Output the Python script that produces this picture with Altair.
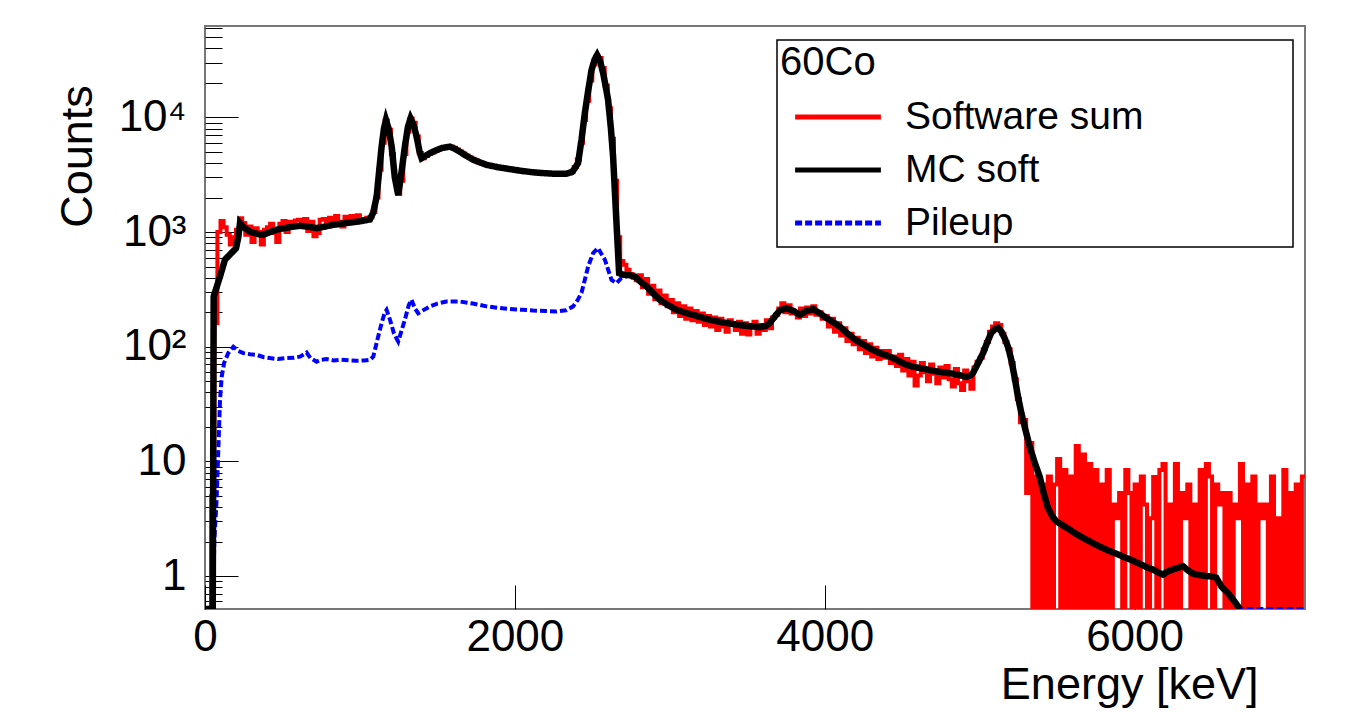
import altair as alt
import pandas as pd

# ---------------- data ----------------
BIN_KEV = 20  # width of the "Software sum" histogram bins, keV

# Software sum: one value per 20 keV bin, 0 .. 7100 keV
software_sum_counts = [
    0, 0, 5, 160, 1000, 1250, 1100, 950, 780, 900,
    1050, 1320, 1200, 950, 1120, 820, 1080, 1000, 780, 1050,
    1100, 1180, 980, 820, 1180, 1250, 1000, 1230, 1120, 1260,
    1280, 1150, 1300, 1020, 1230, 920, 980, 1280, 1300, 1120,
    1330, 1180, 1380, 1230, 1120, 1360, 1250, 1380, 1260, 1400,
    1260, 1300, 1330, 1350, 1500, 2000, 3500, 6000, 9400, 7800,
    4800, 3000, 2150, 2800, 4800, 7500, 9800, 9000, 6800, 4900,
    4400, 4600, 4800, 4950, 5100, 5250, 5400, 5500, 5550, 5560,
    5450, 5250, 5050, 4850, 4650, 4500, 4350, 4200, 4050, 3950,
    3880, 3820, 3760, 3720, 3680, 3640, 3600, 3580, 3560, 3540,
    3500, 3470, 3440, 3400, 3380, 3350, 3320, 3300, 3280, 3270,
    3260, 3250, 3230, 3220, 3210, 3200, 3220, 3250, 3350, 3700,
    4300, 6000, 9500, 14000, 21000, 29000, 34000, 33000, 27000, 19000,
    12000, 6500, 2800, 900, 560, 520, 470, 430, 400, 380,
    420, 330, 390, 290, 340, 260, 310, 240, 280, 225,
    255, 200, 240, 185, 225, 175, 215, 170, 205, 165,
    195, 155, 185, 150, 180, 140, 175, 150, 135, 170,
    160, 140, 165, 130, 160, 128, 150, 165, 130, 155,
    140, 170, 145, 180, 190, 215, 240, 200, 230, 195,
    200, 180, 215, 185, 220, 195, 225, 190, 200, 175,
    185, 150, 175, 135, 160, 125, 145, 112, 130, 105,
    120, 95, 112, 88, 105, 82, 98, 78, 92, 80,
    92, 72, 82, 68, 85, 62, 78, 56, 74, 46,
    56, 72, 60, 50, 70, 58, 48, 66, 54, 68,
    52, 45, 64, 48, 42, 62, 50, 43, 66, 74,
    80, 95, 110, 135, 150, 160, 155, 130, 110, 95,
    72, 52, 35, 22, 23, 5.3, 14.5, 0, 7.4, 0,
    6.3, 0, 7.4, 0, 6.3, 10.5, 0, 8.4, 0, 7.4,
    0, 13.6, 0, 11.5, 0, 9.5, 0, 8.4, 0, 6.3,
    0, 8.4, 0, 4.2, 3.2, 5.3, 0, 8.4, 5.3, 0,
    6.3, 0, 7.4, 4.2, 0, 3.2, 7.3, 0, 8.4, 9.5,
    0, 4.2, 0, 9.5, 0, 5.3, 3.2, 6.3, 0, 4.2,
    0, 8.4, 0, 9.5, 7.4, 0, 6.3, 4.2, 5.3, 0,
    5.3, 0, 4.2, 3.2, 9.5, 0, 6.3, 0, 7.4, 0,
    4.2, 3.2, 4.2, 0, 7.4, 0, 3.2, 0, 8.4, 0,
    5.3, 0, 6.3, 0, 7.4,
]

# MC soft: smooth curve, energy [keV] / counts
mc_soft_energy = [
    0, 50, 56, 97, 129, 172, 200, 215, 226, 250, 290, 340, 376, 420, 463, 540,
    613, 670, 720, 780, 828, 935, 1000, 1065, 1086, 1108, 1125, 1140, 1155, 1168,
    1185, 1205, 1225, 1247, 1268, 1290, 1310, 1327, 1345, 1366, 1385, 1398, 1420,
    1452, 1490, 1527, 1581, 1610, 1645, 1690, 1731, 1817, 1890, 1968, 2040, 2118,
    2180, 2247, 2333, 2370, 2387, 2408, 2430, 2452, 2473, 2495, 2515, 2531, 2550,
    2570, 2585, 2602, 2620, 2634, 2656, 2673, 2700, 2742, 2774, 2810, 2850, 2890,
    2935, 2990, 3043, 3100, 3150, 3200, 3258, 3310, 3366, 3430, 3495, 3581, 3620,
    3645, 3680, 3710, 3753, 3800, 3839, 3880, 3925, 3970, 4011, 4060, 4097, 4140,
    4183, 4225, 4269, 4310, 4355, 4400, 4441, 4485, 4527, 4570, 4613, 4670, 4720,
    4775, 4828, 4870, 4914, 4940, 4957, 4990, 5022, 5050, 5075, 5100, 5118, 5140,
    5161, 5185, 5204, 5225, 5247, 5269, 5295, 5323, 5355, 5387, 5415, 5441, 5470,
    5495, 5540, 5581, 5630, 5688, 5750, 5817, 5880, 5946, 5990, 6032, 6075, 6118,
    6150, 6183, 6215, 6247, 6280, 6312, 6345, 6376, 6420, 6462, 6500, 6527, 6559,
    6580, 6602, 6625, 6645, 6665, 6680,
]
mc_soft_counts = [
    0, 0, 274, 410, 575, 660, 720, 900, 1200, 1100, 1010, 960, 946, 1000, 1050, 1100,
    1135, 1110, 1083, 1120, 1157, 1210, 1240, 1290, 1480, 2040, 3500, 5560, 8000, 9500,
    8000, 5560, 3000, 2110, 3300, 5560, 8300, 9800, 8700, 6800, 5000, 4410, 4600,
    4880, 5150, 5400, 5560, 5350, 5010, 4600, 4270, 3860, 3680, 3540, 3420, 3320,
    3270, 3230, 3230, 3350, 3600, 4000, 6360, 11000, 17000, 25900, 32000, 35000, 31000,
    24300, 19000, 14200, 8000, 4560, 1200, 438, 425, 420, 410, 370, 335, 295,
    257, 230, 210, 198, 190, 181, 172, 166, 161, 156, 152, 148, 152,
    161, 185, 207, 217, 205, 190, 205, 213, 195, 178, 162, 150, 133,
    119, 109, 101, 94, 88, 84, 79.7, 74, 69.7, 67, 65.2, 63, 61,
    59.5, 58.2, 56.5, 54.5, 56, 59, 72, 88, 110, 132, 143, 146, 136,
    119, 98, 77, 55, 37, 26.5, 19, 13.5, 9.8, 7.4, 5.2, 3.93, 3.3,
    3.0, 2.75, 2.54, 2.3, 2.08, 1.88, 1.70, 1.57, 1.44, 1.36, 1.28, 1.20, 1.14,
    1.08, 1.03, 1.10, 1.14, 1.18, 1.22, 1.12, 1.05, 1.02, 1.0, 0.99, 0.97, 0.815,
    0.76, 0.714, 0.65, 0.60, 0.55, 0,
]

# Pileup: dashed curve, energy [keV] / counts
pileup_energy = [
    0, 52, 60, 75, 86, 97, 108, 123, 150, 183, 215, 247, 290, 333, 380, 419, 470,
    527, 570, 613, 640, 656, 680, 720, 750, 785, 830, 871, 930, 979, 1030, 1065,
    1086, 1097, 1118, 1140, 1161, 1172, 1194, 1220, 1247, 1270, 1290, 1315, 1333,
    1355, 1376, 1400, 1452, 1500, 1559, 1645, 1730, 1817, 1900, 1968, 2050, 2118,
    2200, 2269, 2330, 2376, 2405, 2430, 2455, 2473, 2505, 2537, 2560, 2581, 2602,
    2624, 2656, 2688, 2742, 2774, 2850, 2935, 3043, 3150, 3258, 3366, 3495, 3581,
    3645, 3710, 3753, 3839, 3925, 4011, 4097, 4183, 4269, 4355, 4441, 4527, 4613,
    4720, 4828, 4914, 4957, 5022, 5075, 5118, 5161, 5204, 5247, 5269, 5323, 5387,
    5441, 5495, 5581, 5688, 5817, 5946, 6032, 6118, 6183, 6247, 6312, 6376, 6462,
    6527, 6559, 6602, 6645, 6680, 7100,
]
pileup_counts = [
    0, 0, 2, 4.6, 12.6, 34.5, 55, 72, 88, 100, 92, 88, 86, 85, 81, 79.6, 78,
    79.6, 80, 82, 86, 89, 80, 74, 77, 78, 76, 77, 76, 75.5, 76, 77,
    82, 94, 123, 161, 200, 210, 172, 130, 111, 140, 172, 230, 257,
    215, 196, 205, 225, 238, 248, 248, 238, 225, 218, 213, 210, 207,
    205, 203, 208, 225, 255, 295, 400, 500, 656, 725, 640, 574, 470,
    383, 359, 398, 420, 410, 335, 257, 210, 190, 172, 161, 152, 148,
    161, 207, 217, 190, 213, 178, 150, 119, 101, 88, 79.7, 69.7, 65.2,
    61, 58.2, 54.5, 59, 88, 132, 146, 119, 77, 37, 26.5, 13.5, 7.4,
    3.93, 3.0, 2.54, 2.08, 1.70, 1.44, 1.28, 1.14, 1.03, 1.14, 1.22, 1.05, 1.0,
    0.97, 0.815, 0.714, 0.60, 0, 0,
]

SERIES = ["Software sum", "MC soft", "Pileup"]
COLORS = ["#ff0000", "#000000", "#0000ff"]
DASHES = [[1, 0], [1, 0], [7, 3]]
Y_TICKS_MAJOR = [1, 10, 100, 1000, 10000]
Y_TICKS_MINOR = [0.6, 0.7, 0.8, 0.9] + [m * 10 ** k for k in range(4) for m in range(2, 10)] + [20000, 30000, 40000, 50000, 60000]
X_TICKS = [0, 2000, 4000, 6000]

# ---------------- layout ----------------
Y_MIN, Y_MAX = 0.516, 62700
X_MAX = 7100
W, H = 1100, 583
FONT = "Liberation Sans"

sw_e = [i * BIN_KEV for i in range(len(software_sum_counts) + 1)]
sw_c = software_sum_counts + [software_sum_counts[-1]]
df_sw = pd.DataFrame({"E": sw_e, "C": sw_c, "series": "Software sum"})
df_mc = pd.DataFrame({"E": mc_soft_energy, "C": mc_soft_counts, "series": "MC soft"})
df_pu = pd.DataFrame({"E": pileup_energy, "C": pileup_counts, "series": "Pileup"})
for d in (df_sw, df_mc, df_pu):
    d["Cp"] = d["C"].clip(lower=Y_MIN)

xscale = alt.Scale(domain=[0, X_MAX], nice=False, zero=False)
yscale = alt.Scale(type="log", domain=[Y_MIN, Y_MAX], nice=False)

color = alt.Color("series:N", scale=alt.Scale(domain=SERIES, range=COLORS), title="60Co")
dash = alt.StrokeDash("series:N", scale=alt.Scale(domain=SERIES, range=DASHES), title="60Co")

label_expr = ("datum.value == 1 ? '1' : datum.value == 10 ? '10' : datum.value == 100 ? '10\u00b2' : "
              "datum.value == 1000 ? '10\u00b3' : '10\u2074'")

x_main = alt.X("E:Q", scale=xscale, axis=alt.Axis(
    orient="bottom", values=X_TICKS, format="d", ticks=False, domain=False, grid=False,
    labelFontSize=44, labelFont=FONT, labelColor="black", labelPadding=6, labelFlush=False,
    title="Energy [keV]", titleFont=FONT, titleFontSize=45, titleFontWeight="normal",
    titleColor="black", titleAnchor="end", titleAlign="right", titleX=1053, titleY=89,
    titleBaseline="alphabetic"))
y_main = alt.Y("Cp:Q", scale=yscale, axis=alt.Axis(
    orient="left", values=Y_TICKS_MAJOR, labelExpr=label_expr, ticks=False, domain=False,
    grid=False, labelFontSize=44, labelFont=FONT, labelColor="black", labelPadding=19,
    labelFlush=False,
    title="Counts", titleFont=FONT, titleFontSize=45, titleFontWeight="normal",
    titleColor="black", titleAngle=270, titleAlign="center", titleBaseline="alphabetic",
    titleX=-114, titleY=130))

red = alt.Chart(df_sw).mark_line(interpolate="step-after", strokeWidth=4, clip=True).encode(
    x=x_main, y=y_main, color=color, strokeDash=dash)
blue = alt.Chart(df_pu).mark_line(strokeWidth=4, clip=True).encode(
    x=alt.X("E:Q", scale=xscale, axis=None), y=alt.Y("Cp:Q", scale=yscale, axis=None),
    color=color, strokeDash=dash)
black = alt.Chart(df_mc).mark_line(strokeWidth=6.5, clip=True).encode(
    x=alt.X("E:Q", scale=xscale, axis=None), y=alt.Y("Cp:Q", scale=yscale, axis=None),
    color=color, strokeDash=dash)

# inward ticks (ROOT style)
ticks_a = alt.Chart(df_sw).mark_line(opacity=0).encode(
    x=alt.X("E:Q", scale=xscale, axis=alt.Axis(
        orient="top", offset=-H, values=X_TICKS, tickSize=24, tickColor="black", tickWidth=1,
        labels=False, domain=False, grid=False, title=None)),
    y=alt.Y("Cp:Q", scale=yscale, axis=alt.Axis(
        orient="right", offset=-W, values=Y_TICKS_MINOR, tickSize=17, tickColor="black",
        tickWidth=1, labels=False, domain=False, grid=False, title=None)))
ticks_b = alt.Chart(df_sw).mark_line(opacity=0).encode(
    x=alt.X("E:Q", scale=xscale, axis=None),
    y=alt.Y("Cp:Q", scale=yscale, axis=alt.Axis(
        orient="right", offset=-W, values=Y_TICKS_MAJOR, tickSize=33, tickColor="black",
        tickWidth=1, labels=False, domain=False, grid=False, title=None)))

legend_box = alt.Chart(pd.DataFrame({"k": [0]})).mark_rect(
    fill="white", stroke="black", strokeWidth=1.5).encode(
    x=alt.value(572), x2=alt.value(1088), y=alt.value(14), y2=alt.value(221))

chart = alt.layer(red, blue, black, ticks_a, ticks_b, legend_box).resolve_axis(
    x="independent", y="independent"
).properties(
    width=W, height=H,
    autosize=alt.AutoSizeParams(type="none"),
    padding={"left": 197, "top": 18, "right": 40, "bottom": 104},
    background="white",
).configure_view(
    stroke="#777777", strokeWidth=2
).configure_legend(
    orient="none", legendX=575, legendY=17, padding=0,
    titleFont=FONT, titleFontSize=40, titleFontWeight="normal", titleColor="black",
    titlePadding=12, labelFont=FONT, labelFontSize=39, labelColor="black", labelLimit=600,
    symbolType="M-2.2,0H2.2", symbolSize=1521, symbolStrokeWidth=5,
    symbolOffset=36, labelOffset=45, rowPadding=11,
)

chart.save("out.html", embed_options={"renderer": "svg", "actions": False})
